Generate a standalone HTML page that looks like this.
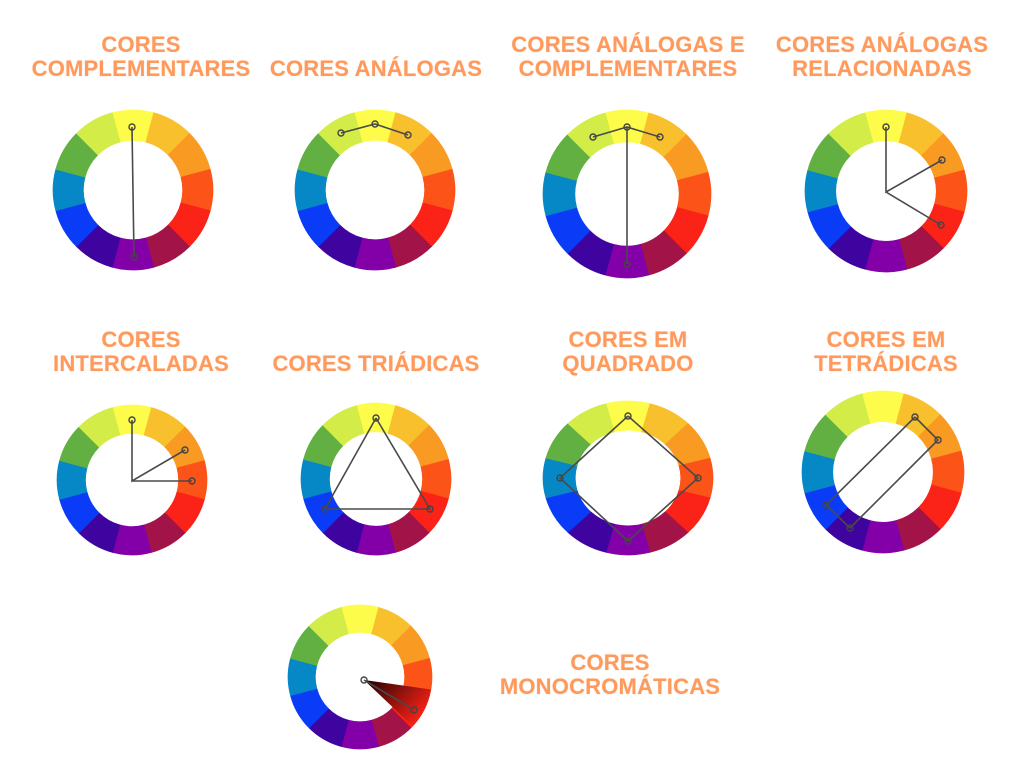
<!DOCTYPE html>
<html><head><meta charset="utf-8">
<style>
html,body{margin:0;padding:0;background:#fff;}
body{width:1024px;height:768px;overflow:hidden;position:relative;font-family:"Liberation Sans",sans-serif;}
.t{position:absolute;color:#ff9a5c;font-weight:bold;font-size:22px;line-height:24px;text-align:center;white-space:nowrap;transform:translateX(-50%);text-shadow:0 0 1px #f5c9ad;letter-spacing:0.2px;}
svg{position:absolute;left:0;top:0;}
</style></head><body>
<div class="t" style="left:141px;top:33px">CORES<br>COMPLEMENTARES</div>
<div class="t" style="left:376px;top:57px">CORES ANÁLOGAS</div>
<div class="t" style="left:628px;top:33px">CORES ANÁLOGAS E<br>COMPLEMENTARES</div>
<div class="t" style="left:882px;top:33px">CORES ANÁLOGAS<br>RELACIONADAS</div>
<div class="t" style="left:141px;top:328px">CORES<br>INTERCALADAS</div>
<div class="t" style="left:376px;top:352px">CORES TRIÁDICAS</div>
<div class="t" style="left:628px;top:328px">CORES EM<br>QUADRADO</div>
<div class="t" style="left:886px;top:328px">CORES EM<br>TETRÁDICAS</div>
<div class="t" style="left:610px;top:651px">CORES<br>MONOCROMÁTICAS</div>
<svg id="s" width="1024" height="768">
<defs><linearGradient id="mg" x1="0" y1="0" x2="1" y2="0.6"><stop offset="0" stop-color="#1a0000"/><stop offset="1" stop-color="#fb2217"/></linearGradient></defs>
</svg>
<script>
const segColors=["#fefc4a","#f9c02e","#f99a22","#fc5318","#fb2217","#a21448","#8300a8","#3f03a0","#0a3cf7","#0688c6","#62b042","#d4ec48"];
const wheelNames=["complementares","analogas","analogas-complementares","analogas-relacionadas","intercaladas","triadicas","quadrado","tetradicas","monocromaticas"];
const wheelCx=[133,375,627,886,132,376,628,883,360];
const wheelCy=[190,190,194,191,480,479,478,472,677];
const wheelRx=[80,80,84,81,75,75,85,81,72];
const wheelRy=[80,80,84,81,75,76,77,81,72];
const innerRatio=0.62;
const linePaths=[
 [[[132,127],[134,257]]],
 [[[341,133],[375,124],[408,135]]],
 [[[593,137],[627,127],[660,137]],[[627,127],[627,264]]],
 [[[886,127],[886,192],[942,160]],[[886,192],[941,225]]],
 [[[132,420],[132,481],[185,450]],[[132,481],[192,481]]],
 [[[376,418],[430,509],[325,509],[376,418]]],
 [[[628,416],[698,478],[628,541],[560,478],[628,416]]],
 [[[915,417],[938,440],[850,528],[826,505],[915,417]]],
 [[[364,680],[414,710]]]
];
const dotPts=[
 [[132,127],[134,257]],
 [[341,133],[375,124],[408,135]],
 [[593,137],[627,127],[660,137],[627,264]],
 [[886,127],[942,160],[941,225]],
 [[132,420],[185,450],[192,481]],
 [[376,418],[430,509],[325,509]],
 [[628,416],[698,478],[628,541],[560,478]],
 [[915,417],[938,440],[850,528],[826,505]],
 [[364,680],[414,710]]
];
const NS="http://www.w3.org/2000/svg";
const svg=document.getElementById('s');
function pt(cx,cy,rx,ry,a){const r=(a-90)*Math.PI/180;return [cx+rx*Math.cos(r),cy+ry*Math.sin(r)];}
wheelNames.forEach((nm,w)=>{
 const g=document.createElementNS(NS,'g');
 
 
 svg.appendChild(g);
 const cx=wheelCx[w],cy=wheelCy[w],rx=wheelRx[w],ry=wheelRy[w],irx=rx*innerRatio,iry=ry*innerRatio;
 segColors.forEach((c,i)=>{
  const a0=i*30-15,a1=i*30+15;
  const p0=pt(cx,cy,rx,ry,a0),p1=pt(cx,cy,rx,ry,a1),q1=pt(cx,cy,irx,iry,a1),q0=pt(cx,cy,irx,iry,a0);
  const p=document.createElementNS(NS,'path');
  p.setAttribute('d',`M${p0[0]},${p0[1]} A${rx},${ry} 0 0 1 ${p1[0]},${p1[1]} L${q1[0]},${q1[1]} A${irx},${iry} 0 0 0 ${q0[0]},${q0[1]} Z`);
  p.setAttribute('fill',c);p.setAttribute('stroke',c);p.setAttribute('stroke-width','0.6');
  
  
  g.appendChild(p);
 });
 if(nm==='monocromaticas'){
  const a=pt(cx,cy,rx,ry,100),b=pt(cx,cy,rx,ry,133);
  const p=document.createElementNS(NS,'path');
  p.setAttribute('d',`M${cx+4},${cy+3} L${a[0]},${a[1]} A${rx},${ry} 0 0 1 ${b[0]},${b[1]} Z`);
  p.setAttribute('fill','url(#mg)');
  
  
  g.appendChild(p);
 }
 linePaths[w].forEach(l=>{
  const pl=document.createElementNS(NS,'polyline');
  pl.setAttribute('points',l.map(q=>q.join(',')).join(' '));
  pl.setAttribute('fill','none');pl.setAttribute('stroke','#4a4a4a');pl.setAttribute('stroke-width','1.6');
  
  
  g.appendChild(pl);
 });
 dotPts[w].forEach(q=>{
  const c=document.createElementNS(NS,'circle');
  c.setAttribute('cx',q[0]);c.setAttribute('cy',q[1]);c.setAttribute('r','3');
  c.setAttribute('fill','none');c.setAttribute('stroke','#444');c.setAttribute('stroke-width','1.4');
  
  
  g.appendChild(c);
 });
});
</script>
</body></html>
